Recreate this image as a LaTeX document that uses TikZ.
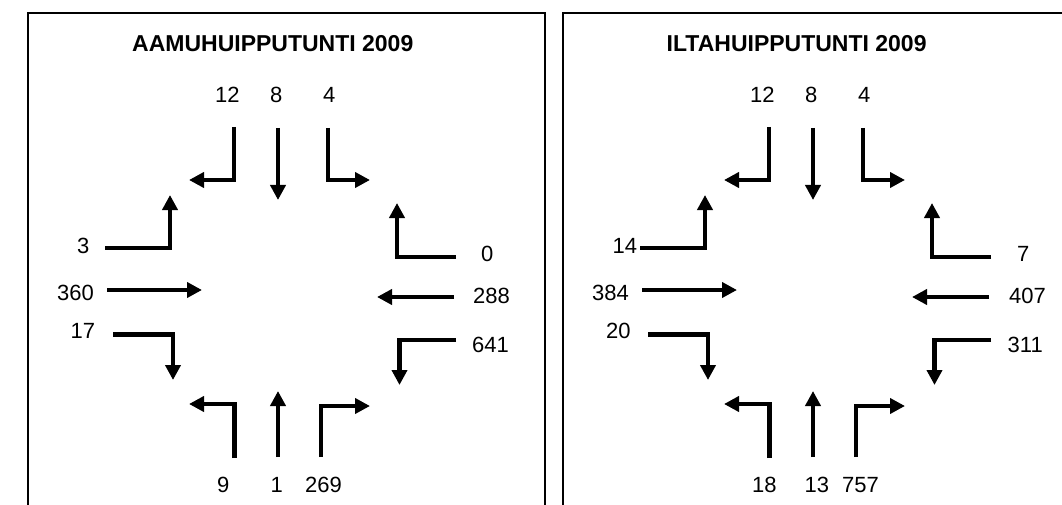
\documentclass[tikz,border=0pt]{standalone}
\usepackage{fontspec}
\setmainfont{Liberation Sans}
\usetikzlibrary{arrows.meta}
\begin{document}
\begin{tikzpicture}[x=1pt,y=-1pt,
  flow/.style={line width=4.5pt,-{Triangle[length=15pt,width=15pt]},line join=miter},
  frame/.style={line width=1.5pt,draw=black},
  num/.style={anchor=base west,inner sep=0pt,font=\fontsize{22}{26}\selectfont},
  ttl/.style={anchor=base west,inner sep=0pt,font=\fontsize{23}{28}\selectfont\bfseries}]
\useasboundingbox (0,0) rectangle (1062,505);
\fill[white] (0,0) rectangle (1062,505);
\newcommand\crossarrows{%
  \draw[flow] (234,127) |- (189,180);
  \draw[flow] (278,128) -- (278,200);
  \draw[flow] (328,128) |- (370,180);
  \draw[flow] (105,248) -| (170,195);
  \draw[flow] (107,290) -- (202,290);
  \draw[flow] (113,334.5) -| (173,380);
  \draw[flow] (234.5,458) |- (189,404);
  \draw[flow] (278,457) -- (278,391);
  \draw[flow] (321,457) |- (370,406);
  \draw[flow] (456,257) -| (397,203);
  \draw[flow] (454,297) -- (377,297);
  \draw[flow] (456,340) -| (399.5,385);
}
% left panel
\draw[frame] (28,520) -- (28,13) -- (545,13) -- (545,520);
\crossarrows
\node[ttl] (t1) at (132,52) {AAMUHUIPPUTUNTI 2009};
\node[num] (a12) at (215,103) {12};
\node[num] (a8) at (270,103) {8};
\node[num] (a4) at (323,103) {4};
\node[num] (a3) at (77,253) {3};
\node[num] (a360) at (57,300) {360};
\node[num] (a17) at (70.5,338) {17};
\node[num] (a9) at (217,492) {9};
\node[num] (a1) at (270.5,492) {1};
\node[num] (a269) at (305,492) {269};
\node[num] (a0) at (481,261) {0};
\node[num] (a288) at (473,303) {288};
\node[num] (a641) at (472,352) {641};
% right panel
\draw[frame] (563,520) -- (563,13) -- (1080,13) -- (1080,520);
\begin{scope}[xshift=535pt]
\crossarrows
\end{scope}
\node[ttl] (t2) at (666.5,52) {ILTAHUIPPUTUNTI 2009};
\node[num] (b12) at (750,103) {12};
\node[num] (b8) at (805,103) {8};
\node[num] (b4) at (858,103) {4};
\node[num] (b14) at (612.5,253) {14};
\node[num] (b384) at (592,300) {384};
\node[num] (b20) at (606,338) {20};
\node[num] (b18) at (752,492) {18};
\node[num] (b13) at (804.5,492) {13};
\node[num] (b757) at (842,492) {757};
\node[num] (b7) at (1017,261) {7};
\node[num] (b407) at (1009,303) {407};
\node[num] (b311) at (1007.5,352) {311};
\end{tikzpicture}
\end{document}
